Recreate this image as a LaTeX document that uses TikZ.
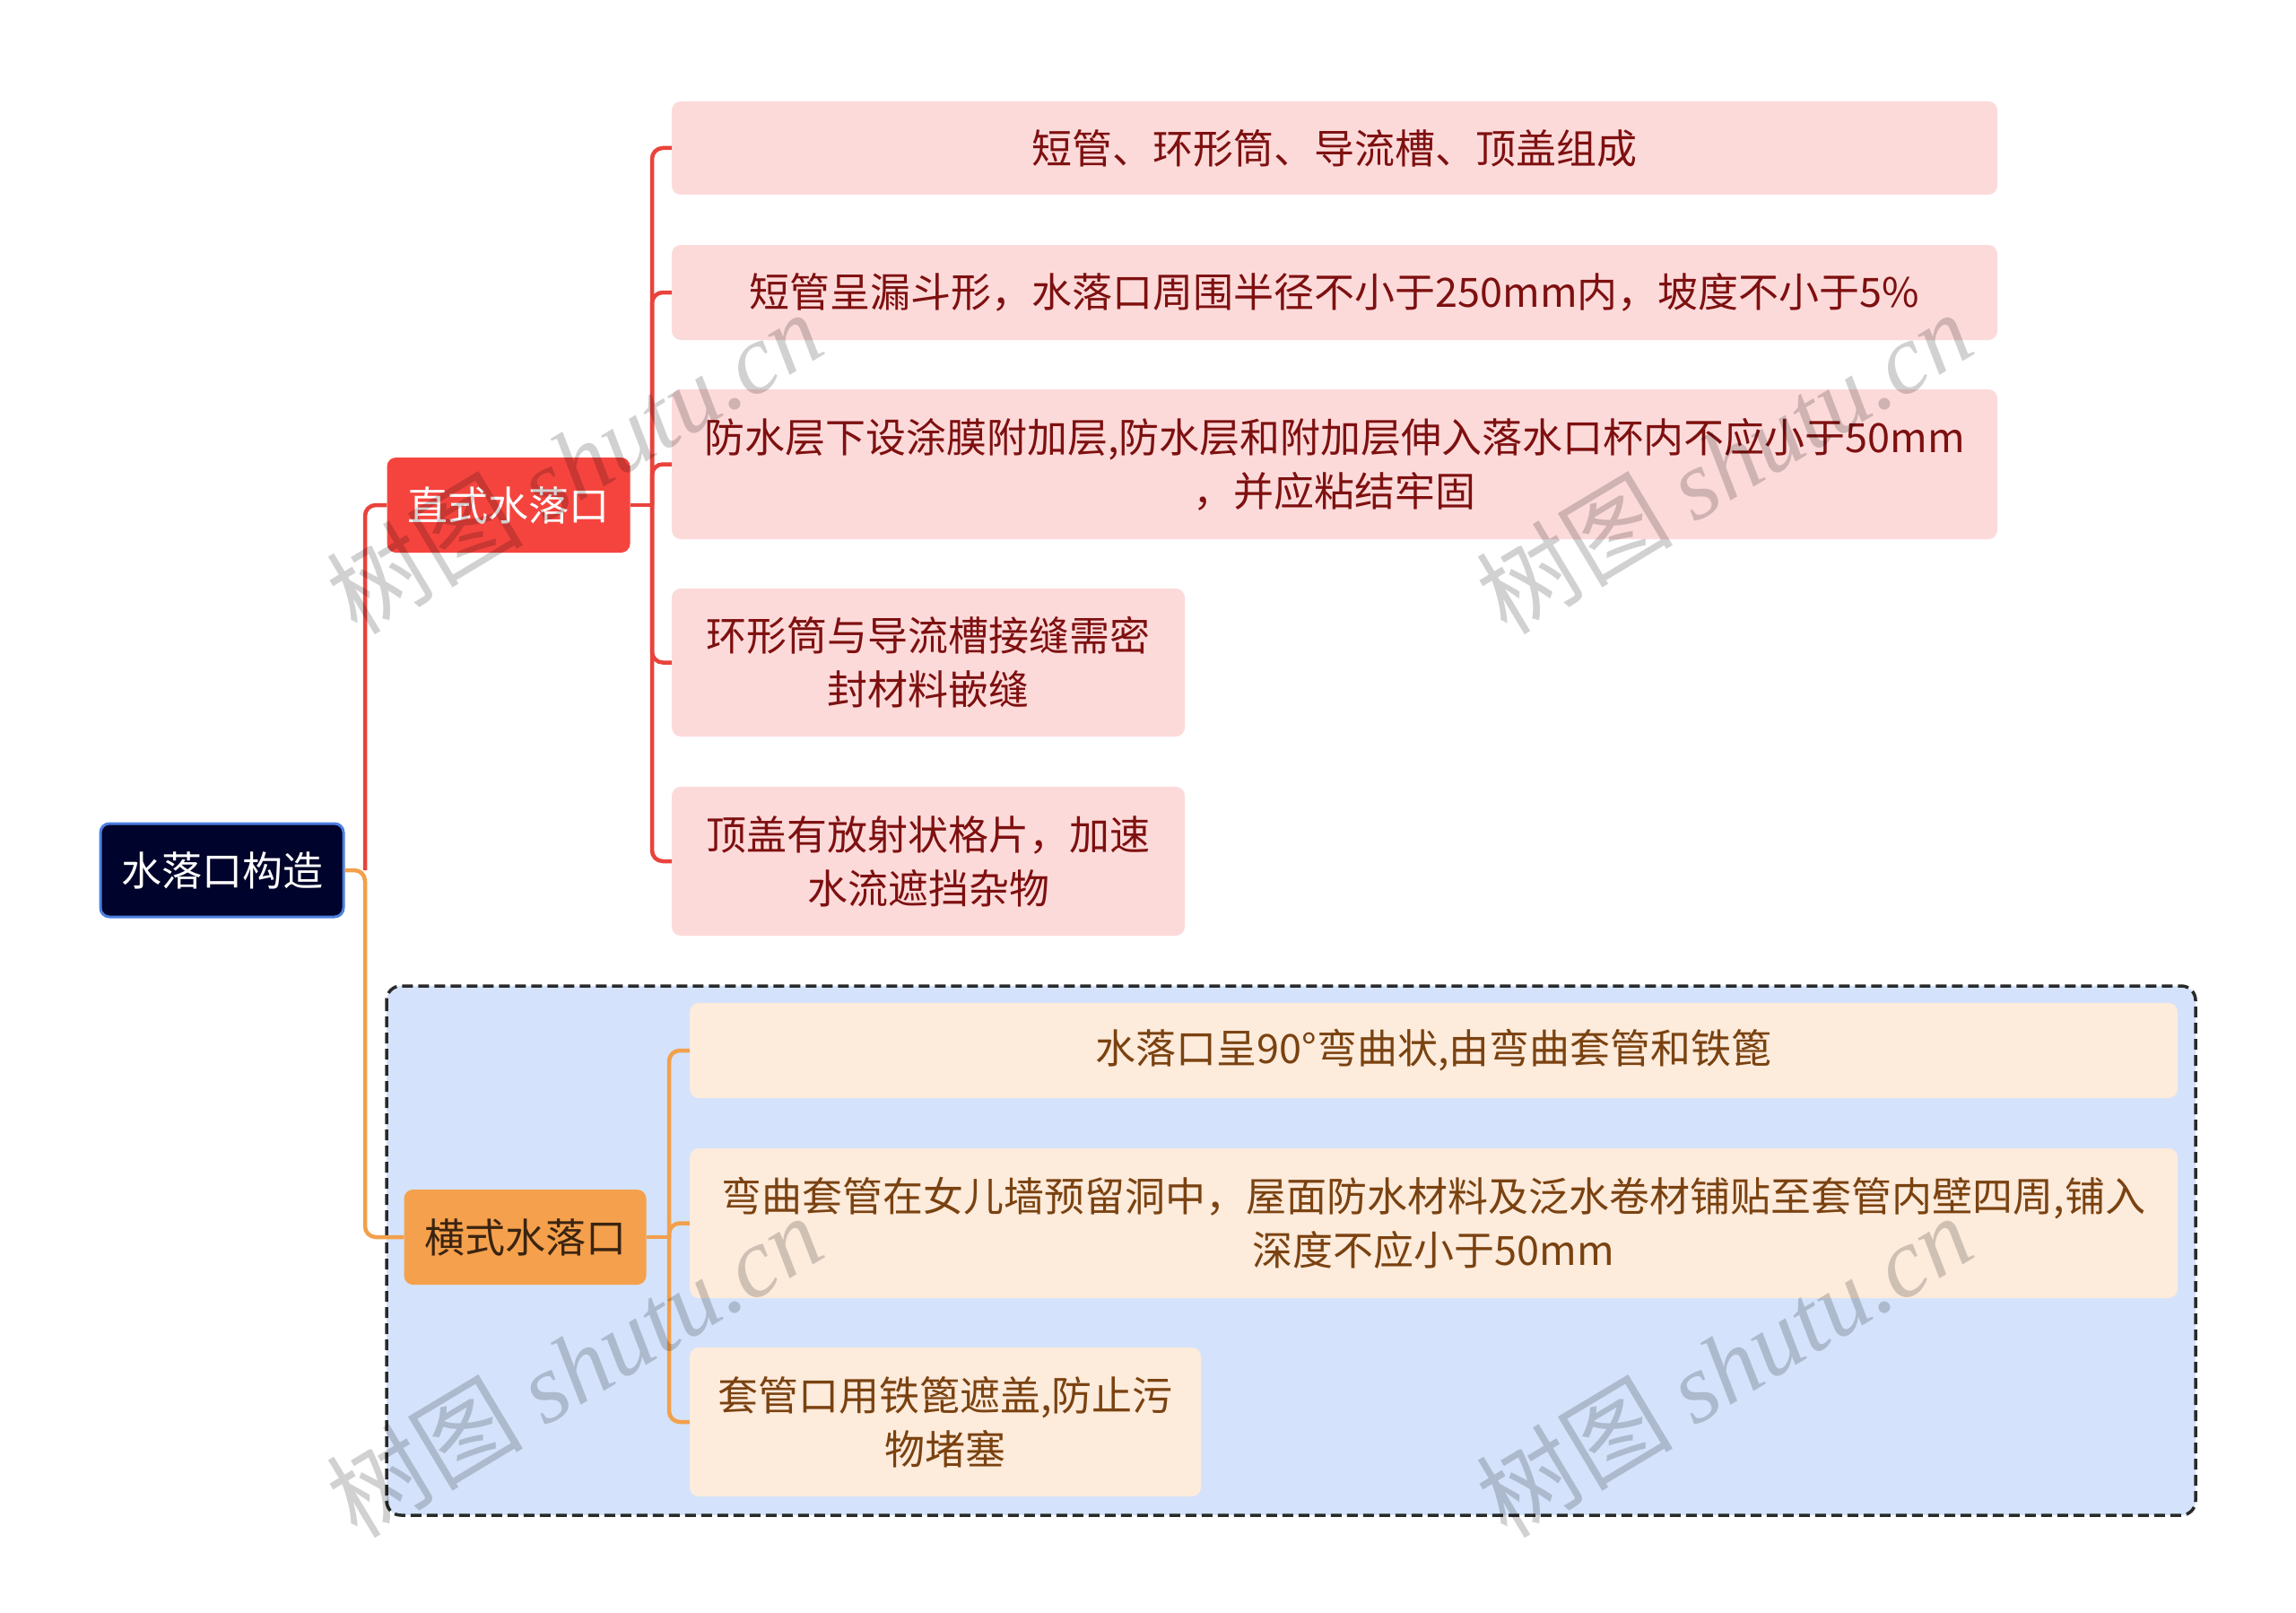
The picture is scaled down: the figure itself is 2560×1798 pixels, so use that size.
\documentclass[tikz,border=0pt]{standalone}
\usepackage{fontspec}
\setmainfont{Noto Sans CJK SC}
\newfontfamily\wmlat{Liberation Serif}
\usetikzlibrary{positioning}
\definecolor{rootfill}{HTML}{00032B}
\definecolor{rootline}{HTML}{4A7FE0}
\definecolor{redmain}{HTML}{F5443E}
\definecolor{redline}{HTML}{E8433C}
\definecolor{redleaf}{HTML}{FDDADA}
\definecolor{redtext}{HTML}{7E1010}
\definecolor{orgmain}{HTML}{F5A04C}
\definecolor{orgline}{HTML}{F2A04B}
\definecolor{orgleaf}{HTML}{FDEBDC}
\definecolor{orgtext}{HTML}{7A4210}
\definecolor{hengtext}{HTML}{3A2410}
\definecolor{groupfill}{HTML}{D4E3FB}
\definecolor{groupline}{HTML}{2A2A2A}
\tikzset{
  box/.style={rounded corners=10pt, inner sep=0pt, align=center,
    font=\fontsize{45}{60}\selectfont},
  rootbox/.style={box, fill=rootfill, draw=rootline, line width=3pt, text=white},
  zhibox/.style={box, fill=redmain, text=white},
  hengbox/.style={box, fill=orgmain, text=hengtext},
  redbox/.style={box, fill=redleaf, text=redtext},
  orgbox/.style={box, fill=orgleaf, text=orgtext},
  redcon/.style={draw=redline, line width=4.5pt, rounded corners=12pt},
  orgcon/.style={draw=orgline, line width=4.5pt, rounded corners=12pt},
  wmark/.style={rotate=31, text=black, text opacity=0.18, inner sep=0pt,
    font=\fontsize{110}{110}\selectfont}
}
\begin{document}
\begin{tikzpicture}[x=1pt,y=-1pt]
\useasboundingbox[fill=white] (0,0) rectangle (2560,1798);
% group region
\draw[fill=groupfill, draw=groupline, line width=3.5pt, dash pattern=on 12pt off 6pt, rounded corners=16pt]
  (431,1099) rectangle (2448,1689);
% nodes
\node[rootbox, minimum width=271pt, minimum height=104pt] (root) at (247.5,970) {水落口构造};
\node[zhibox, minimum width=271pt, minimum height=106pt] (zhi) at (567,563) {直式水落口};
\node[hengbox, minimum width=270pt, minimum height=106pt] (heng) at (585.5,1379) {横式水落口};
\node[redbox, minimum width=1478pt, minimum height=104pt] (l1) at (1488,165) {短管、环形筒、导流槽、顶盖组成};
\node[redbox, minimum width=1478pt, minimum height=106pt] (l2) at (1488,326) {短管呈漏斗形，水落口周围半径不小于250mm内，坡度不小于5\%};
\node[redbox, minimum width=1478pt, minimum height=167pt] (l3) at (1488,517.5) {防水层下设涂膜附加层,防水层和附加层伸入落水口杯内不应小于50mm\\，并应粘结牢固};
\node[redbox, minimum width=572pt, minimum height=165pt] (l4) at (1035,738.5) {环形筒与导流槽接缝需密\\封材料嵌缝};
\node[redbox, minimum width=572pt, minimum height=166pt] (l5) at (1035,960) {顶盖有放射状格片，加速\\水流遮挡杂物};
\node[orgbox, minimum width=1659pt, minimum height=106pt] (o1) at (1598.5,1171) {水落口呈90°弯曲状,由弯曲套管和铁篦};
\node[orgbox, minimum width=1659pt, minimum height=167pt] (o2) at (1598.5,1363.5) {弯曲套管在女儿墙预留洞中，屋面防水材料及泛水卷材铺贴至套管内壁四周,铺入\\深度不应小于50mm};
\node[orgbox, minimum width=570pt, minimum height=166pt] (o3) at (1054,1585) {套管口用铁篦遮盖,防止污\\物堵塞};
% junctions
\coordinate (j0) at (407,970);
\coordinate (j1) at (727,563);
\coordinate (j2) at (746,1379);
% connectors
\path[redcon] (j0) |- (zhi.west);
\path[orgcon] (root.east) -- (j0) |- (heng.west);
\path[redcon] (zhi.east) -- (j1);
\foreach \n in {l1,l2,l3,l4,l5} { \path[redcon] (j1) |- (\n.west); }
\path[orgcon] (heng.east) -- (j2);
\foreach \n in {o1,o2,o3} { \path[orgcon] (j2) |- (\n.west); }
% watermarks
\node[wmark] (wm1) at (640,515) {树图 {\wmlat\itshape shutu.cn}};
\node[wmark] (wm2) at (1922,515) {树图 {\wmlat\itshape shutu.cn}};
\node[wmark] (wm3) at (640,1522) {树图 {\wmlat\itshape shutu.cn}};
\node[wmark] (wm4) at (1922,1522) {树图 {\wmlat\itshape shutu.cn}};
\end{tikzpicture}
\end{document}
